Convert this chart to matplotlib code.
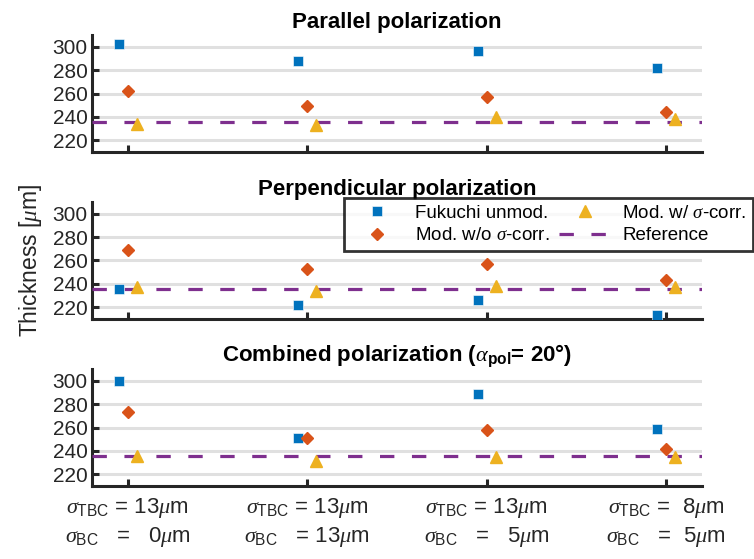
import numpy as np
import matplotlib
matplotlib.use("Agg")
from matplotlib import pyplot as plt

plt.rcParams['font.family'] = ['Liberation Sans', 'DejaVu Sans']
plt.rcParams['mathtext.fontset'] = 'custom'
plt.rcParams['mathtext.rm'] = 'Liberation Sans'
plt.rcParams['mathtext.it'] = 'Liberation Serif:italic'
plt.rcParams['mathtext.bf'] = 'Liberation Sans:bold'

# roughness cases on the x axis
cases = [1, 2, 3, 4]
case_labels = [
    "$\\sigma_{\\rm TBC}$ = 13$\\mu$m\n$\\sigma_{\\rm BC}$   =   0$\\mu$m",
    "$\\sigma_{\\rm TBC}$ = 13$\\mu$m\n$\\sigma_{\\rm BC}$   = 13$\\mu$m",
    "$\\sigma_{\\rm TBC}$ = 13$\\mu$m\n$\\sigma_{\\rm BC}$   =   5$\\mu$m",
    "$\\sigma_{\\rm TBC}$ =  8$\\mu$m\n$\\sigma_{\\rm BC}$   =  5$\\mu$m",
]

titles = [
    "Parallel polarization",
    "Perpendicular polarization",
    "Combined polarization ($\\alpha_{\\mathbf{pol}}$= 20°)",
]

# thickness estimates [um] per polarization
fukuchi = [
    [302, 288, 296, 282],
    [236, 222, 226, 213],
    [300, 251, 289, 259],
]
mod_no_corr = [
    [262, 249, 257, 244],
    [269, 253, 257, 243],
    [273, 251, 258, 242],
]
mod_corr = [
    [234, 233, 240, 238],
    [237, 234, 238, 237],
    [236, 231, 235, 235],
]
reference = 236

c_blue = '#0072BD'
c_orange = '#D95319'
c_yellow = '#EDB120'
c_purple = '#7E2F8E'
c_axis = '#262626'

fig = plt.figure(figsize=(7.54, 5.59), dpi=100)
W, H = 754, 559
# axes boxes in pixels: left, top, right, bottom
boxes = [(92, 35, 702, 152), (92, 202, 702, 319), (92, 369, 702, 486)]

axes = []
for k, (l, t, r, b) in enumerate(boxes):
    ax = fig.add_axes([l / W, 1 - b / H, (r - l) / W, (b - t) / H])
    x = np.array(cases, dtype=float)
    ax.plot(x - 0.05, fukuchi[k], ls='none', marker='s', ms=6.5,
            color=c_blue, mec='white', mew=0.4, label='Fukuchi unmod.', zorder=4)
    ax.plot(x, mod_no_corr[k], ls='none', marker='D', ms=6.5,
            color=c_orange, mec=c_orange, label='Mod. w/o $\\sigma$-corr.', zorder=4)
    ax.plot(x + 0.05, mod_corr[k], ls='none', marker='^', ms=8,
            color=c_yellow, mec=c_yellow, label='Mod. w/ $\\sigma$-corr.', zorder=4)
    ax.axhline(reference, color=c_purple, lw=2.3, dashes=(4.5, 5.5),
               label='Reference', zorder=3)

    ax.set_xlim(0.8, 4.2)
    ax.set_ylim(210, 310)
    ax.set_yticks([220, 240, 260, 280, 300])
    ax.set_xticks(cases)
    ax.grid(axis='y', color='#e0e0e0', lw=2.2)
    ax.set_axisbelow(True)
    for s in ['top', 'right']:
        ax.spines[s].set_visible(False)
    for s in ['left', 'bottom']:
        ax.spines[s].set_linewidth(2.2)
        ax.spines[s].set_color(c_axis)
    ax.tick_params(direction='in', length=5, width=2.2, color=c_axis,
                   labelsize=15, labelcolor=c_axis, pad=3)
    ax.set_title(titles[k], fontsize=16, fontweight='bold', pad=5)
    if k < 2:
        ax.set_xticklabels([])
    else:
        ax.set_xticklabels(case_labels, fontsize=16, linespacing=1.3)
        ax.tick_params(axis='x', pad=7)
    axes.append(ax)

axes[1].set_ylabel('Thickness [$\\mu$m]', fontsize=16.5, color=c_axis, labelpad=6)

h, lab = axes[0].get_legend_handles_labels()
leg = fig.legend(h, lab, ncol=2,
                 loc='upper right', bbox_to_anchor=(753 / W, 1 - 198 / H),
                 fontsize=13.5, frameon=True, fancybox=False, edgecolor='black',
                 borderpad=0.35, handlelength=2.8, columnspacing=0.5,
                 labelspacing=0.3, handletextpad=0.6, borderaxespad=0)
leg.get_frame().set_linewidth(2)
leg.set_zorder(10)

fig.savefig('out.png', dpi=100, facecolor='white')
